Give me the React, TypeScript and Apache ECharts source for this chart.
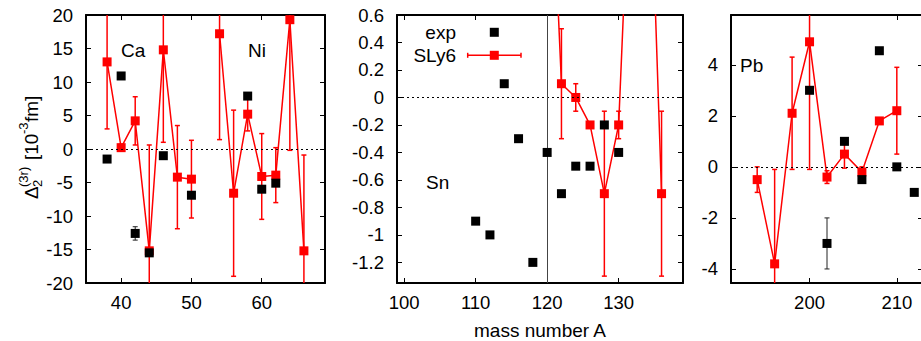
import React, { useEffect, useRef } from "react";
import * as echarts from "echarts";

const FONT = "'Liberation Sans', Arial, Helvetica, sans-serif";

// ---------- Ca / Ni ----------
const caNiMassExp = [38, 40, 42, 44, 46, 50, 58, 60, 62];
const caNiExp = [-1.5, 10.9, -12.6, -15.5, -1.0, -6.9, 7.9, -6.0, -5.1];
const caNiExpErr = [0, 0, 1.0, 0, 0, 0, 0, 0, 0];
const caNiMassTh = [38, 40, 42, 44, 46, 48, 50, 54, 56, 58, 60, 62, 64, 66];
const caNiTh = [13.0, 0.2, 4.2, -15.2, 14.8, -4.2, -4.5, 17.2, -6.6, 5.2, -4.1, -3.9, 19.3, -15.2];
const caNiThErr = [10.0, 0.5, 3.6, 15.8, 13.8, 7.7, 5.8, 15.8, 12.4, 2.5, 6.4, 4.1, 19.5, 14.3];

// ---------- Sn ----------
const snMassExp = [110, 112, 114, 116, 118, 120, 122, 124, 126, 128, 130];
const snExp = [-0.9, -1.0, 0.1, -0.3, -1.2, -0.4, -0.7, -0.5, -0.5, -0.2, -0.4];
const snExpErr = [0, 0, 0, 0, 0, 0, 0, 0, 0, 0, 0];
const snMassTh = [120, 122, 124, 126, 128, 130, 132, 134, 136];
const snTh = [2.45, 0.1, 0.0, -0.2, -0.7, -0.2, 2.25, 2.4, -0.7];
const snThErr = [0.5, 0.4, 0.1, 0, 0.6, 0.1, 0.5, 0.5, 0.6];

// ---------- Pb ----------
const pbMassExp = [200, 202, 204, 206, 208, 210, 212];
const pbExp = [3.0, -3.0, 1.0, -0.5, 4.55, 0.0, -1.0];
const pbExpErr = [0, 1.0, 0, 0, 0, 0, 0];
const pbMassTh = [194, 196, 198, 200, 202, 204, 206, 208, 210];
const pbTh = [-0.5, -3.8, 2.1, 4.9, -0.4, 0.5, -0.2, 1.8, 2.2];
const pbThErr = [0.5, 3.7, 2.2, 5.0, 0.25, 0.55, 0.2, 0, 1.7];

// ---------- ticks ----------
const caNiXTicks = [40, 50, 60];
const caNiYTicks = [-20, -15, -10, -5, 0, 5, 10, 15, 20];
const snXTicks = [100, 110, 120, 130];
const snYTicks = [-1.2, -1, -0.8, -0.6, -0.4, -0.2, 0, 0.2, 0.4, 0.6];
const pbXTicks = [200, 210];
const pbYTicks = [-4, -2, 0, 2, 4];

const panels = [
  {
    grid: { left: 86, top: 15, width: 239, height: 268 },
    xMin: 35, xMax: 69, yMin: -20, yMax: 20,
    xTicks: caNiXTicks, yTicks: caNiYTicks,
    massExp: caNiMassExp, exp: caNiExp, expErr: caNiExpErr,
    massTh: caNiMassTh, th: caNiTh, thErr: caNiThErr,
    vline: null as number | null,
  },
  {
    grid: { left: 397, top: 15, width: 286, height: 268 },
    xMin: 99, xMax: 139, yMin: -1.35, yMax: 0.6,
    xTicks: snXTicks, yTicks: snYTicks,
    massExp: snMassExp, exp: snExp, expErr: snExpErr,
    massTh: snMassTh, th: snTh, thErr: snThErr,
    vline: 120 as number | null,
  },
  {
    grid: { left: 731, top: 15, width: 192, height: 268 },
    xMin: 191, xMax: 213, yMin: -4.55, yMax: 5.95,
    xTicks: pbXTicks, yTicks: pbYTicks,
    massExp: pbMassExp, exp: pbExp, expErr: pbExpErr,
    massTh: pbMassTh, th: pbTh, thErr: pbThErr,
    vline: null as number | null,
  },
];

const fmt = (v: number) => String(Math.round(v * 10) / 10);

function errorBarRender(color: string, width: number, cap: number) {
  return (params: any, api: any) => {
    const x = api.value(0);
    const y = api.value(1);
    const e = api.value(2);
    if (!e) return { type: "group", children: [] };
    const p1 = api.coord([x, y + e]);
    const p2 = api.coord([x, y - e]);
    const style = { stroke: color, lineWidth: width };
    return {
      type: "group",
      children: [
        { type: "line", shape: { x1: p1[0], y1: p1[1], x2: p2[0], y2: p2[1] }, style },
        { type: "line", shape: { x1: p1[0] - cap, y1: p1[1], x2: p1[0] + cap, y2: p1[1] }, style },
        { type: "line", shape: { x1: p2[0] - cap, y1: p2[1], x2: p2[0] + cap, y2: p2[1] }, style },
      ],
    };
  };
}

function lineData(mass: number[], vals: number[]) {
  const out: any[] = [];
  mass.forEach((m, i) => {
    if (i > 0 && m - mass[i - 1] > 2) out.push(["-", "-"]);
    out.push([m, vals[i]]);
  });
  return out;
}

function buildOption() {
  const grid: any[] = [];
  const xAxis: any[] = [];
  const yAxis: any[] = [];
  const series: any[] = [];

  const axisLine = { onZero: false, lineStyle: { color: "#000", width: 2 } };
  const labelStyle = { fontSize: 18.5, color: "#000", fontFamily: FONT };

  panels.forEach((p, gi) => {
    grid.push({ ...p.grid, containLabel: false });
    xAxis.push({
      type: "value", gridIndex: gi, position: "bottom", min: p.xMin, max: p.xMax,
      axisLine, splitLine: { show: false },
      axisTick: { inside: true, length: 5, customValues: p.xTicks, lineStyle: { color: "#000", width: 1 } },
      axisLabel: { ...labelStyle, margin: 10, customValues: p.xTicks, formatter: fmt },
    });
    xAxis.push({
      type: "value", gridIndex: gi, position: "top", min: p.xMin, max: p.xMax,
      axisLine, splitLine: { show: false },
      axisTick: { inside: true, length: 5, customValues: p.xTicks, lineStyle: { color: "#000", width: 1 } },
      axisLabel: { show: false },
    });
    yAxis.push({
      type: "value", gridIndex: gi, position: "left", min: p.yMin, max: p.yMax,
      axisLine, splitLine: { show: false },
      axisTick: { inside: true, length: 5, customValues: p.yTicks, lineStyle: { color: "#000", width: 1 } },
      axisLabel: { ...labelStyle, margin: 13, customValues: p.yTicks, formatter: fmt },
    });
    yAxis.push({
      type: "value", gridIndex: gi, position: "right", min: p.yMin, max: p.yMax,
      axisLine, splitLine: { show: false },
      axisTick: { inside: true, length: 5, customValues: p.yTicks, lineStyle: { color: "#000", width: 1 } },
      axisLabel: { show: false },
    });

    const xi = gi * 2;
    const yi = gi * 2;

    const markData: any[] = [
      { yAxis: 0, lineStyle: { color: "#000", type: [2, 3], width: 1 } },
    ];
    if (p.vline !== null) {
      markData.push({ xAxis: p.vline, lineStyle: { color: "#444", type: "solid", width: 1 } });
    }

    series.push({
      type: "custom", xAxisIndex: xi, yAxisIndex: yi, clip: true, silent: true, z: 2,
      renderItem: errorBarRender("#ff0000", 1.5, 2.5),
      encode: { x: 0, y: 1 },
      data: p.massTh.map((m, i) => [m, p.th[i], p.thErr[i]]),
      markLine: {
        silent: true, symbol: ["none", "none"], label: { show: false },
        data: markData,
      },
    });
    series.push({
      type: "line", xAxisIndex: xi, yAxisIndex: yi, z: 3, clip: true,
      symbol: "rect", symbolSize: 9, connectNulls: false,
      lineStyle: { color: "#ff0000", width: 1.5 },
      itemStyle: { color: "#ff0000", opacity: 1 },
      data: lineData(p.massTh, p.th),
    });
    series.push({
      type: "custom", xAxisIndex: xi, yAxisIndex: yi, clip: true, silent: true, z: 4,
      renderItem: errorBarRender("#222", 1, 2.5),
      encode: { x: 0, y: 1 },
      data: p.massExp.map((m, i) => [m, p.exp[i], p.expErr[i]]),
    });
    series.push({
      type: "scatter", xAxisIndex: xi, yAxisIndex: yi, z: 5, clip: true,
      symbol: "rect", symbolSize: 9,
      itemStyle: { color: "#000", opacity: 1 },
      data: p.massExp.map((m, i) => [m, p.exp[i]]),
    });
  });

  const t = (text: string, x: number, y: number, size: number, align = "left") => ({
    type: "text", x, y, silent: true,
    style: {
      text, fill: "#000", fontSize: size, fontFamily: FONT,
      textAlign: align, align, textVerticalAlign: "middle", verticalAlign: "middle",
    },
  });

  const rectSq = (cx: number, cy: number, color: string) => ({
    type: "rect", silent: true,
    shape: { x: cx - 4.5, y: cy - 4.5, width: 9, height: 9 },
    style: { fill: color },
  });

  const redLine = (x1: number, y1: number, x2: number, y2: number) => ({
    type: "line", silent: true,
    shape: { x1, y1, x2, y2 },
    style: { stroke: "#ff0000", lineWidth: 1.5 },
  });

  const graphic: any[] = [
    t("Ca", 121, 50, 19),
    t("Ni", 248, 50, 19),
    t("Sn", 426, 182, 19),
    t("Pb", 740, 65, 19),
    t("exp", 456, 32, 19, "right"),
    rectSq(494.3, 32.3, "#000"),
    t("SLy6", 456, 55, 19, "right"),
    redLine(467.7, 55.3, 521, 55.3),
    redLine(467.7, 52.8, 467.7, 57.8),
    redLine(521, 52.8, 521, 57.8),
    rectSq(494.3, 55.3, "#ff0000"),
    t("mass number A", 540, 330, 19, "center"),
    {
      type: "group", x: 31, y: 199, rotation: Math.PI / 2, silent: true,
      children: [
        t("Δ", 0, 0, 19),
        t("2", 12, 6, 13),
        t("(3r)", 12, -8, 13),
        t("[10", 39, 0, 19),
        t("-3", 65, -8, 13),
        t("fm]", 77, 0, 19),
      ],
    },
  ];

  return {
    animation: false,
    backgroundColor: "#fff",
    grid, xAxis, yAxis, series, graphic,
  };
}

export default function App() {
  const ref = useRef<HTMLDivElement>(null);
  useEffect(() => {
    if (!ref.current) return;
    const chart = echarts.init(ref.current, undefined, { renderer: "svg" });
    chart.setOption(buildOption() as any);
    return () => chart.dispose();
  }, []);
  return (
    <div style={{ position: "fixed", left: 0, top: 0, width: 921, height: 341, overflow: "hidden", background: "#fff" }}>
      <div ref={ref} style={{ width: 940, height: 341 }} />
    </div>
  );
}
